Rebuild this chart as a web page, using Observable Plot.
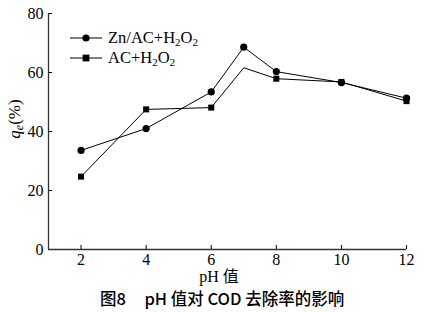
<!DOCTYPE html>
<html><head><meta charset="utf-8">
<script src="https://cdn.jsdelivr.net/npm/d3@7"></script>
<script src="https://cdn.jsdelivr.net/npm/@observablehq/plot@0.6"></script>
<style>
body{margin:0;background:#fff;}
#wrap{position:relative;width:430px;height:312px;font-family:"Liberation Serif",serif;}
#wrap svg text{font-family:"Liberation Serif","Noto Sans CJK SC",serif !important;}
.leg{position:absolute;left:70px;font-size:16.5px;line-height:18px;display:flex;align-items:center;}
.leg svg{margin-right:6px;}
.leg sub{font-size:11px;vertical-align:-3px;line-height:0;}
#cap{position:absolute;top:286px;left:100px;font-family:"Noto Sans CJK SC",sans-serif;font-size:16.5px;font-weight:500;white-space:pre;}
</style></head>
<body><div id="wrap"></div>
<script>
const ph = [2, 4, 6, 7, 8, 10, 12];
const znAc = [33.6, 41.0, 53.4, 68.6, 60.3, 56.6, 51.3];
const ac = [24.7, 47.5, 48.1, 61.6, 57.9, 56.8, 50.3];
const acMarked = [true, true, true, false, true, true, true];
const xTicks = [2, 4, 6, 8, 10, 12];
const yTicks = [0, 20, 40, 60, 80];

const zn = ph.map((x, i) => ({x, y: znAc[i]}));
const a = ph.map((x, i) => ({x, y: ac[i], m: acMarked[i]}));

const serif = "Liberation Serif";
const chart = Plot.plot({
  width: 430, height: 286,
  marginLeft: 48, marginRight: 24, marginTop: 13, marginBottom: 37,
  style: {fontFamily: serif, fontSize: "16px", color: "#000", background: "#fff"},
  x: {domain: [1, 12]},
  y: {domain: [0, 80]},
  marks: [
    Plot.axisX({ticks: xTicks, tickSize: -4, tickPadding: 8, tickFormat: d => String(d), label: null, fontSize: 16, fontFamily: serif, fontVariant: "normal"}),
    Plot.axisY({ticks: yTicks, tickSize: -4, tickPadding: 9, tickFormat: d => String(d), label: null, fontSize: 16, fontFamily: serif, fontVariant: "normal"}),
    Plot.ruleY([0], {stroke: "#333", strokeWidth: 1.3}),
    Plot.ruleX([1], {stroke: "#333", strokeWidth: 1.3}),
    Plot.line(zn, {x: "x", y: "y", stroke: "#000", strokeWidth: 1}),
    Plot.line(a, {x: "x", y: "y", stroke: "#000", strokeWidth: 1}),
    Plot.dot(zn, {x: "x", y: "y", r: 3.6, fill: "#000", stroke: "none"}),
    Plot.dot(a.filter(d => d.m), {x: "x", y: "y", r: 3.4, symbol: "square", fill: "#000", stroke: "none"})
  ]
});
const wrap = document.getElementById("wrap");
wrap.appendChild(chart);

const svg = d3.select(chart);
// x label
svg.append("text")
  .attr("x", 219).attr("y", 282)
  .attr("text-anchor", "middle")
  .attr("font-size", 16)
  .text("pH 值");
// y label
const t = svg.append("text")
  .attr("transform", "translate(20,119) rotate(-90)")
  .attr("text-anchor", "middle")
  .attr("font-size", 17);
t.append("tspan").attr("font-style", "italic").text("q");
t.append("tspan").attr("font-style", "italic").attr("font-size", 12).attr("dy", 3).text("e");
t.append("tspan").attr("dy", -3).text("(%)");

// legend
const legHtml = [
  `<svg width="32" height="10"><line x1="0" y1="5" x2="32" y2="5" stroke="#000"/><circle cx="16" cy="5" r="3.6"/></svg><span>Zn/AC+H<sub>2</sub>O<sub>2</sub></span>`,
  `<svg width="32" height="10"><line x1="0" y1="5" x2="32" y2="5" stroke="#000"/><rect x="12.6" y="1.6" width="6.8" height="6.8"/></svg><span>AC+H<sub>2</sub>O<sub>2</sub></span>`
];
legHtml.forEach((h, i) => {
  const d = document.createElement("div");
  d.className = "leg";
  d.style.top = (29 + i * 20) + "px";
  d.innerHTML = h;
  wrap.appendChild(d);
});
const cap = document.createElement("div");
cap.id = "cap";
cap.textContent = "图8     pH 值对 COD 去除率的影响";
wrap.appendChild(cap);
</script></body></html>
